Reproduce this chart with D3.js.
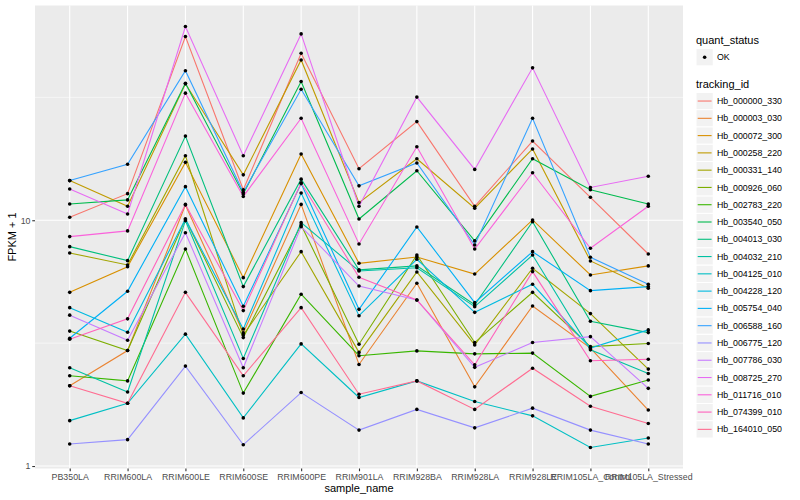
<!DOCTYPE html>
<html>
<head>
<meta charset="utf-8">
<script src="https://cdn.jsdelivr.net/npm/d3@7"></script>
<style>
body { margin: 0; background: #fff; }
text { font-family: "Liberation Sans", Arial, sans-serif; }
</style>
</head>
<body>
<div id="chart"></div>
<script>
// values (FPKM + 1), one row per tracking_id, one column per sample
var samples = ["PB350LA", "RRIM600LA", "RRIM600LE", "RRIM600SE", "RRIM600PE", "RRIM901LA",
    "RRIM928BA", "RRIM928LA", "RRIM928LE", "RRIM105LA_Control", "RRIM105LA_Stressed"];

var trackingIds = ["Hb_000000_330", "Hb_000003_030", "Hb_000072_300", "Hb_000258_220", "Hb_000331_140",
    "Hb_000926_060", "Hb_002783_220", "Hb_003540_050", "Hb_004013_030", "Hb_004032_210",
    "Hb_004125_010", "Hb_004228_120", "Hb_005754_040", "Hb_006588_160", "Hb_006775_120",
    "Hb_007786_030", "Hb_008725_270", "Hb_011716_010", "Hb_074399_010", "Hb_164010_050"];

var fpkm = [
    [10.29, 12.83, 55.9, 13.3, 47.8, 16.2, 25.2, 11.4, 21.0, 12.4, 7.29],
    [2.12, 2.95, 11.54, 3.48, 11.6, 2.59, 5.54, 2.10, 4.48, 3.02, 1.69],
    [5.09, 6.47, 17.2, 5.84, 18.6, 6.68, 7.09, 6.04, 10.03, 5.99, 6.52],
    [14.5, 11.4, 35.9, 15.3, 44.9, 11.8, 17.8, 11.2, 19.5, 6.83, 5.29],
    [7.36, 6.58, 18.3, 3.41, 7.45, 2.90, 6.16, 3.11, 6.38, 4.17, 2.48],
    [3.54, 2.95, 10.12, 3.33, 9.57, 3.13, 7.22, 3.18, 5.09, 3.06, 3.15],
    [2.33, 2.22, 7.64, 1.98, 5.00, 2.81, 2.94, 2.86, 2.88, 1.92, 2.24],
    [11.65, 12.1, 36.1, 12.8, 36.7, 10.12, 15.9, 8.24, 17.8, 13.3, 11.65],
    [7.81, 6.85, 22.0, 5.37, 14.7, 6.28, 6.52, 4.53, 9.87, 3.88, 3.49],
    [2.51, 2.00, 9.96, 2.74, 9.78, 6.22, 6.41, 4.45, 7.22, 2.97, 2.38],
    [1.53, 1.80, 3.44, 1.57, 3.14, 1.90, 2.22, 1.83, 1.60, 1.19, 1.30],
    [4.41, 3.50, 10.12, 3.61, 12.9, 4.09, 6.94, 4.22, 5.49, 3.02, 3.58],
    [3.31, 5.14, 13.7, 4.47, 14.1, 4.34, 9.39, 4.62, 7.45, 5.17, 5.37],
    [14.5, 16.9, 40.6, 13.0, 34.1, 13.8, 17.1, 7.93, 26.0, 7.07, 5.49],
    [1.23, 1.28, 2.55, 1.22, 1.99, 1.40, 1.70, 1.43, 1.72, 1.40, 1.23],
    [4.11, 3.25, 8.90, 2.51, 9.42, 5.40, 4.74, 2.52, 3.18, 3.36, 2.07],
    [13.4, 10.6, 61.4, 18.3, 57.3, 11.4, 31.7, 16.1, 41.7, 13.6, 15.1],
    [8.58, 9.05, 32.9, 12.5, 26.0, 8.01, 19.9, 7.64, 15.6, 7.69, 11.4],
    [3.28, 3.97, 11.6, 4.29, 14.2, 5.86, 4.74, 2.58, 6.18, 2.68, 2.72],
    [2.12, 1.80, 5.09, 2.33, 4.41, 1.96, 2.22, 1.70, 2.50, 1.75, 1.49]
];

var quantStatus = ["OK"];
var yTicks = [1, 10];
var yMinorTicks = [Math.pow(10, 0.5), Math.pow(10, 1.5)];

// ggplot default hue palette for 20 levels
var palette = ["#F8766D", "#EA8331", "#D89000", "#C09B00", "#A3A500", "#7CAE00", "#39B600", "#00BB4E",
    "#00BF7D", "#00C1A3", "#00BFC4", "#00BAE0", "#00B0F6", "#35A2FF", "#9590FF", "#C77CFF",
    "#E76BF3", "#FA62DB", "#FF62BC", "#FF6C91"];

(function () {
    var w = 800;
    var h = 500;
    var pLeft = 35, pRight = 683, pTop = 5.5, pBottom = 468.5;

    var svg = d3.select("#chart")
        .append("svg")
        .attr("width", w)
        .attr("height", h);

    // log scale with ggplot's 5% expansion
    var ext = d3.extent(d3.merge(fpkm)).map(Math.log10);
    var pad = (ext[1] - ext[0]) * 0.05;
    var y = d3.scaleLog()
        .domain([Math.pow(10, ext[0] - pad), Math.pow(10, ext[1] + pad)])
        .range([pBottom, pTop]);

    var x = d3.scalePoint()
        .domain(samples)
        .range([pLeft, pRight])
        .padding(0.6);

    var colour = d3.scaleOrdinal()
        .domain(trackingIds)
        .range(palette);

    svg.append("rect")
        .attr("x", pLeft)
        .attr("y", pTop)
        .attr("width", pRight - pLeft)
        .attr("height", pBottom - pTop)
        .attr("fill", "#EBEBEB");

    svg.selectAll("line.minor")
        .data(yMinorTicks)
        .enter()
        .append("line")
        .attr("class", "minor")
        .attr("x1", pLeft).attr("x2", pRight)
        .attr("y1", function (d) { return y(d); })
        .attr("y2", function (d) { return y(d); })
        .attr("stroke", "#fff")
        .attr("stroke-width", 0.55);

    svg.selectAll("line.ymajor")
        .data(yTicks)
        .enter()
        .append("line")
        .attr("class", "ymajor")
        .attr("x1", pLeft).attr("x2", pRight)
        .attr("y1", function (d) { return y(d); })
        .attr("y2", function (d) { return y(d); })
        .attr("stroke", "#fff")
        .attr("stroke-width", 1.1);

    svg.selectAll("line.xmajor")
        .data(samples)
        .enter()
        .append("line")
        .attr("class", "xmajor")
        .attr("y1", pTop).attr("y2", pBottom)
        .attr("x1", function (d) { return x(d); })
        .attr("x2", function (d) { return x(d); })
        .attr("stroke", "#fff")
        .attr("stroke-width", 1.1);

    // axes
    var yAxis = svg.append("g")
        .attr("transform", "translate(" + pLeft + ",0)")
        .call(d3.axisLeft(y).tickValues(yTicks).tickFormat(d3.format("d")).tickSize(2.75).tickPadding(1.8));

    var xAxis = svg.append("g")
        .attr("transform", "translate(0," + pBottom + ")")
        .call(d3.axisBottom(x).tickSize(2.75).tickPadding(2.2));

    [yAxis, xAxis].forEach(function (g) {
        g.select(".domain").remove();
        g.selectAll(".tick line").attr("stroke", "#333333").attr("stroke-width", 1.1);
        g.selectAll(".tick text")
            .attr("fill", "#4D4D4D")
            .style("font-size", "8.8px")
            .style("font-family", "'Liberation Sans', Arial, sans-serif");
    });

    // lines
    var line = d3.line()
        .x(function (d, i) { return x(samples[i]); })
        .y(function (d) { return y(d); });

    svg.selectAll("path.series")
        .data(fpkm)
        .enter()
        .append("path")
        .attr("class", "series")
        .attr("d", line)
        .attr("fill", "none")
        .attr("stroke", function (d, i) { return colour(trackingIds[i]); })
        .attr("stroke-width", 1.1);

    // points
    var pts = [];
    fpkm.forEach(function (row) {
        row.forEach(function (v, j) { pts.push({ s: samples[j], v: v }); });
    });

    svg.selectAll("circle.pt")
        .data(pts)
        .enter()
        .append("circle")
        .attr("class", "pt")
        .attr("cx", function (d) { return x(d.s); })
        .attr("cy", function (d) { return y(d.v); })
        .attr("r", 1.8)
        .attr("fill", "#000");

    // axis titles
    svg.append("text")
        .attr("x", (pLeft + pRight) / 2)
        .attr("y", 492)
        .attr("text-anchor", "middle")
        .style("font-size", "11px")
        .text("sample_name");

    svg.append("text")
        .attr("transform", "translate(15.5," + (pTop + pBottom) / 2 + ") rotate(-90)")
        .attr("text-anchor", "middle")
        .style("font-size", "11px")
        .text("FPKM + 1");

    // legends
    var lx = 696;
    var keySize = 17.28;

    svg.append("text")
        .attr("x", lx).attr("y", 43.5)
        .style("font-size", "11px")
        .text("quant_status");

    var qs = svg.selectAll("g.qs")
        .data(quantStatus)
        .enter()
        .append("g")
        .attr("class", "qs")
        .attr("transform", function (d, i) { return "translate(" + lx + "," + (48.6 + i * keySize) + ")"; });

    qs.append("rect")
        .attr("width", keySize).attr("height", keySize)
        .attr("fill", "#F2F2F2").attr("stroke", "#fff");
    qs.append("circle")
        .attr("cx", keySize / 2).attr("cy", keySize / 2)
        .attr("r", 1.8).attr("fill", "#000");
    qs.append("text")
        .attr("x", keySize + 3.6).attr("y", keySize / 2 + 3.1)
        .style("font-size", "8.8px")
        .text(function (d) { return d; });

    svg.append("text")
        .attr("x", lx).attr("y", 88)
        .style("font-size", "11px")
        .text("tracking_id");

    var keys = svg.selectAll("g.key")
        .data(trackingIds)
        .enter()
        .append("g")
        .attr("class", "key")
        .attr("transform", function (d, i) { return "translate(" + lx + "," + (92.4 + i * keySize) + ")"; });

    keys.append("rect")
        .attr("width", keySize).attr("height", keySize)
        .attr("fill", "#F2F2F2").attr("stroke", "#fff");
    keys.append("line")
        .attr("x1", 1.7).attr("x2", keySize - 1.7)
        .attr("y1", keySize / 2).attr("y2", keySize / 2)
        .attr("stroke", function (d) { return colour(d); })
        .attr("stroke-width", 1.1);
    keys.append("text")
        .attr("x", keySize + 3.6).attr("y", keySize / 2 + 3.1)
        .style("font-size", "8.8px")
        .text(function (d) { return d; });
})();
</script>
</body>
</html>
